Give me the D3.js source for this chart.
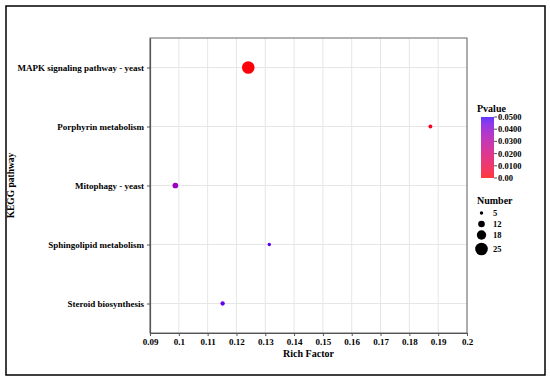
<!DOCTYPE html>
<html><head><meta charset="utf-8">
<script src="https://cdn.jsdelivr.net/npm/d3@7"></script>
<style>body{margin:0;background:#fff}svg{display:block}text{font-family:"Liberation Serif","Times New Roman",serif;font-weight:bold;fill:#000}</style>
</head><body>
<script>
const categories = ["MAPK signaling pathway - yeast","Porphyrin metabolism","Mitophagy - yeast","Sphingolipid metabolism","Steroid biosynthesis"];
const richFactor = [0.1241, 0.1873, 0.0988, 0.1314, 0.1152];
const numbers = [25, 6, 10, 5, 7];
const pvalues = [0.001, 0.003, 0.037, 0.047, 0.046];
const xTicks = [0.09,0.1,0.11,0.12,0.13,0.14,0.15,0.16,0.17,0.18,0.19,0.2];
const pTicks = [0, 0.01, 0.02, 0.03, 0.04, 0.05];
const pTickLabels = ["0.00","0.0100","0.0200","0.0300","0.0400","0.0500"];
const sizeTicks = [5, 12, 18, 25];

const W=550,H=383;
const svg=d3.select("body").append("svg").attr("width",W).attr("height",H);
svg.append("rect").attr("x",6).attr("y",6).attr("width",539).attr("height",369).attr("fill","#fff").attr("stroke","#000").attr("stroke-width",1.5);

const L=150,R=467,T=38,B=333;
const x=d3.scaleLinear().domain([0.09,0.2]).range([L,R]);
const y=d3.scalePoint().domain(categories).range([T,B]).padding(0.5);
const size=d3.scaleLinear().domain([5,25]).range([1.7,6.3]);
const color=d3.scaleLinear().domain([0,0.05]).range(["#ff0000","#3300ff"]).interpolate(d3.interpolateLab);

const g=svg.append("g");
g.selectAll(".vg").data(xTicks).join("line").attr("x1",d=>x(d)).attr("x2",d=>x(d)).attr("y1",T).attr("y2",B).attr("stroke","#e6e6e6").attr("stroke-width",1);
g.selectAll(".hg").data(categories).join("line").attr("x1",L).attr("x2",R).attr("y1",d=>y(d)).attr("y2",d=>y(d)).attr("stroke","#e6e6e6").attr("stroke-width",1);
g.append("rect").attr("x",L).attr("y",T).attr("width",R-L).attr("height",B-T).attr("fill","none").attr("stroke","#666").attr("stroke-width",1);

const xa=svg.append("g").attr("transform",`translate(0,${B})`).style("color","#000").call(d3.axisBottom(x).tickValues(xTicks).tickFormat(d=>String(+d.toFixed(2))).tickSize(3).tickSizeOuter(0));
const ya=svg.append("g").attr("transform",`translate(${L},0)`).style("color","#000").call(d3.axisLeft(y).tickSize(3).tickSizeOuter(0));
[xa,ya].forEach(a=>{a.select(".domain").attr("stroke","#555").attr("stroke-width",1.2);a.selectAll(".tick line").attr("stroke","#555");a.selectAll("text").attr("font-family","Liberation Serif").attr("font-weight","bold").attr("font-size",9).style("fill","#000");});

const data=categories.map((c,i)=>({c,rf:richFactor[i],n:numbers[i],p:pvalues[i]}));
svg.selectAll(".pt").data(data).join("circle").attr("cx",d=>x(d.rf)).attr("cy",d=>y(d.c)).attr("r",d=>size(d.n)).attr("fill",d=>color(d.p));

svg.append("text").attr("x",(L+R)/2).attr("y",357).attr("text-anchor","middle").attr("font-size",10).text("Rich Factor");
svg.append("text").attr("transform",`translate(14,${(T+B)/2}) rotate(-90)`).attr("text-anchor","middle").attr("font-size",9.5).text("KEGG pathway");

const lx=481,ly1=117,ly2=178;
svg.append("text").attr("x",477).attr("y",112).attr("font-size",10).text("Pvalue");
const defs=svg.append("defs");
const grad=defs.append("linearGradient").attr("id","pg").attr("x1",0).attr("y1",1).attr("x2",0).attr("y2",0);
d3.range(0,1.0001,0.1).forEach(t=>grad.append("stop").attr("offset",t).attr("stop-color",color(t*0.05)));
svg.append("rect").attr("x",lx).attr("y",ly1).attr("width",13).attr("height",ly2-ly1).attr("fill","url(#pg)").attr("opacity",0.78);
const py=d3.scaleLinear().domain([0,0.05]).range([ly2,ly1]);
pTicks.forEach((v,i)=>{
  svg.append("line").attr("x1",lx+13).attr("x2",lx+16).attr("y1",py(v)).attr("y2",py(v)).attr("stroke","#555");
  svg.append("text").attr("x",lx+17).attr("y",py(v)).attr("dy","0.35em").attr("font-size",8.5).style("fill","#000").text(pTickLabels[i]);
});

svg.append("text").attr("x",477).attr("y",204).attr("font-size",10).text("Number");
const sy=[213,224,235,249];
sizeTicks.forEach((v,i)=>{
  svg.append("circle").attr("cx",481.5).attr("cy",sy[i]).attr("r",size(v)).attr("fill","#000");
  svg.append("text").attr("x",493).attr("y",sy[i]).attr("dy","0.35em").attr("font-size",8.5).style("fill","#000").text(v);
});
</script>
</body></html>
